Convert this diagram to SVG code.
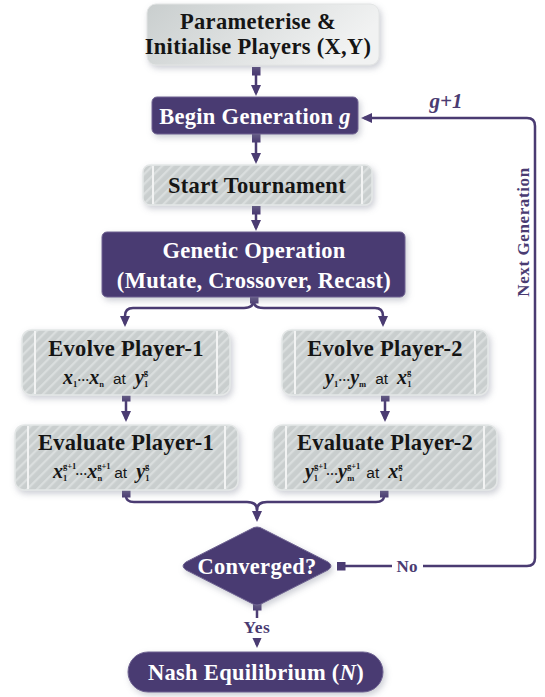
<svg xmlns="http://www.w3.org/2000/svg" width="545" height="697" viewBox="0 0 545 697">
<defs>
<style>
.t{font-family:"Liberation Serif",serif;font-weight:bold;font-size:22.5px;letter-spacing:0.3px;text-anchor:middle}
.k{fill:#151515}
.w{fill:#ffffff}
.gray{fill:url(#hatch);stroke:#e4e7e7;stroke-width:1.5}
.inset{stroke:#f2f3f3;stroke-width:2}
.purp{fill:#4a3b72;stroke:#6f6392;stroke-width:1}
.ln{font-family:"Liberation Serif",serif;fill:#151515}
.bi{font-weight:bold;font-style:italic;font-size:20px}
.sb{font-weight:bold;font-size:8.5px}
.dt{font-weight:bold;font-size:12px}
.at{font-family:"Liberation Sans",sans-serif;font-size:15.5px}
.c{fill:none;stroke:#4a3b72;stroke-width:2.5}
.lab{font-family:"Liberation Serif",serif;font-weight:bold;fill:#4a3b72;text-anchor:middle}
</style>
<pattern id="hatch" width="7" height="7" patternUnits="userSpaceOnUse" patternTransform="rotate(45)">
<rect width="7" height="7" fill="#c9cece"/>
<line x1="1" y1="0" x2="1" y2="7" stroke="#dadede" stroke-width="2.5"/>
</pattern>
<linearGradient id="topg" x1="0" y1="0" x2="1" y2="0.3">
<stop offset="0" stop-color="#c9cece"/>
<stop offset="1" stop-color="#f1f2f2"/>
</linearGradient>
<filter id="sh" x="-10%" y="-20%" width="125%" height="150%">
<feDropShadow dx="2" dy="3" stdDeviation="3" flood-color="#8d92a0" flood-opacity="0.45"/>
</filter>
<marker id="ah" markerWidth="12" markerHeight="10" refX="8" refY="5" orient="auto" markerUnits="userSpaceOnUse">
<path d="M0,0 L11,5 L0,10 Z" fill="#4a3b72"/>
</marker>
<marker id="sq" markerWidth="9" markerHeight="9" refX="4.5" refY="4.5" orient="0" markerUnits="userSpaceOnUse">
<rect width="9" height="9" fill="#4a3b72"/>
</marker>
</defs>
<rect width="545" height="697" fill="#ffffff"/>

<g id="connectors">
<path class="c" marker-start="url(#sq)" marker-end="url(#ah)" d="M256,71 V93"/>
<path class="c" marker-start="url(#sq)" marker-end="url(#ah)" d="M256,138 V161"/>
<path class="c" marker-start="url(#sq)" marker-end="url(#ah)" d="M256,210 V228"/>
<path class="c" marker-start="url(#sq)" marker-end="url(#ah)" d="M254,299 C254,306 250,308 244,308 H133 Q125,308 125,316 V324"/>
<path class="c" marker-end="url(#ah)" d="M254,302 C254,306 258,308 264,308 H375 Q383,308 383,316 V324"/>
<path class="c" marker-start="url(#sq)" marker-end="url(#ah)" d="M126,397 V419"/>
<path class="c" marker-start="url(#sq)" marker-end="url(#ah)" d="M385,397 V419"/>
<path class="c" marker-start="url(#sq)" marker-end="url(#ah)" d="M126,493 V496 Q126,502 134,502 H247 Q257,502 257,510 V519"/>
<path class="c" marker-start="url(#sq)" d="M384,493 V496 Q384,502 376,502 H267 Q257,502 257,510"/>
<path class="c" marker-start="url(#sq)" marker-end="url(#ah)" d="M341,566 H527 Q535,566 535,558 V126 Q535,118 527,118 H364"/>
<path class="c" marker-start="url(#sq)" marker-end="url(#ah)" d="M257,606 V645"/>
<rect x="392" y="556" width="31" height="19" fill="#ffffff"/>
<text class="lab" x="407" y="572" font-size="17">No</text>
<rect x="237" y="618" width="40" height="20" fill="#ffffff"/>
<text class="lab" x="257" y="633" font-size="17.5" letter-spacing="0.5">Yes</text>
<text class="lab" x="446" y="108" font-size="21" font-style="italic">g+1</text>
<text class="lab" x="0" y="0" font-size="17" letter-spacing="0.6" transform="translate(529,232) rotate(-90)">Next Generation</text>
</g>

<g id="init">
<rect x="147" y="4" width="232" height="61" rx="9" fill="url(#topg)" stroke="#e2e4e4" stroke-width="1" filter="url(#sh)"/>
<text class="t k" x="258" y="29" font-size="21.5">Parameterise &amp;</text>
<text class="t k" x="258" y="54" font-size="21.5">Initialise Players (X,Y)</text>
</g>

<g id="begin">
<rect class="purp" x="152" y="97" width="206" height="37" rx="5" filter="url(#sh)"/>
<text class="t w" x="255" y="124">Begin Generation <tspan font-style="italic">g</tspan></text>
</g>

<g id="tournament">
<rect class="gray" x="143" y="165" width="229" height="40" rx="7" filter="url(#sh)"/>
<line class="inset" x1="153" y1="166" x2="153" y2="204"/>
<line class="inset" x1="362" y1="166" x2="362" y2="204"/>
<text class="t k" x="257" y="193">Start Tournament</text>
</g>

<g id="genetic">
<rect class="purp" x="102" y="232" width="303" height="65" rx="5" filter="url(#sh)"/>
<text class="t w" x="254" y="258">Genetic Operation</text>
<text class="t w" x="254" y="288">(Mutate, Crossover, Recast)</text>
</g>

<g id="evolve1">
<rect class="gray" x="22" y="330" width="208" height="65" rx="9" filter="url(#sh)"/>
<line class="inset" x1="35" y1="331" x2="35" y2="394"/>
<line class="inset" x1="217" y1="331" x2="217" y2="394"/>
<text class="t k" x="126" y="356">Evolve Player-1</text>
<text class="ln" x="63" y="384"><tspan class="bi">x</tspan><tspan class="sb" dy="3">1</tspan><tspan class="dt" dy="-3">···</tspan><tspan class="bi">x</tspan><tspan class="sb" dy="3">n</tspan><tspan class="at" dx="9" dy="-3">at</tspan><tspan class="bi" dx="9">y</tspan><tspan class="sb" dy="-9">g</tspan><tspan class="sb" dx="-4" dy="12">1</tspan></text>
</g>

<g id="evaluate1">
<rect class="gray" x="15" y="425" width="223" height="65" rx="9" filter="url(#sh)"/>
<line class="inset" x1="28" y1="426" x2="28" y2="489"/>
<line class="inset" x1="225" y1="426" x2="225" y2="489"/>
<text class="t k" x="126" y="450">Evaluate Player-1</text>
<text class="ln" x="53" y="478"><tspan class="bi">x</tspan><tspan class="sb" dy="-9">g+1</tspan><tspan class="sb" dx="-13" dy="12">1</tspan><tspan class="dt" dx="8" dy="-3">···</tspan><tspan class="bi">x</tspan><tspan class="sb" dy="-9">g+1</tspan><tspan class="sb" dx="-13" dy="12">n</tspan><tspan class="at" dx="12" dy="-3">at</tspan><tspan class="bi" dx="9">y</tspan><tspan class="sb" dy="-9">g</tspan><tspan class="sb" dx="-4" dy="12">1</tspan></text>
</g>

<g id="evolve2">
<rect class="gray" x="282" y="330" width="206" height="65" rx="9" filter="url(#sh)"/>
<line class="inset" x1="295" y1="331" x2="295" y2="394"/>
<line class="inset" x1="475" y1="331" x2="475" y2="394"/>
<text class="t k" x="385" y="356">Evolve Player-2</text>
<text class="ln" x="325" y="384"><tspan class="bi">y</tspan><tspan class="sb" dy="3">1</tspan><tspan class="dt" dy="-3">···</tspan><tspan class="bi">y</tspan><tspan class="sb" dy="3">m</tspan><tspan class="at" dx="9" dy="-3">at</tspan><tspan class="bi" dx="9">x</tspan><tspan class="sb" dy="-9">g</tspan><tspan class="sb" dx="-4" dy="12">1</tspan></text>
</g>

<g id="evaluate2">
<rect class="gray" x="273" y="425" width="224" height="65" rx="9" filter="url(#sh)"/>
<line class="inset" x1="286" y1="426" x2="286" y2="489"/>
<line class="inset" x1="484" y1="426" x2="484" y2="489"/>
<text class="t k" x="385" y="450">Evaluate Player-2</text>
<text class="ln" x="305" y="478"><tspan class="bi">y</tspan><tspan class="sb" dy="-9">g+1</tspan><tspan class="sb" dx="-13" dy="12">1</tspan><tspan class="dt" dx="8" dy="-3">···</tspan><tspan class="bi">y</tspan><tspan class="sb" dy="-9">g+1</tspan><tspan class="sb" dx="-13" dy="12">m</tspan><tspan class="at" dx="12" dy="-3">at</tspan><tspan class="bi" dx="9">x</tspan><tspan class="sb" dy="-9">g</tspan><tspan class="sb" dx="-4" dy="12">1</tspan></text>
</g>

<g id="converged">
<path d="M251,529 Q257,525 263,529 L328,562 Q334,566 328,570 L263,603 Q257,607 251,603 L186,570 Q180,566 186,562 Z" fill="#4a3b72" stroke="#6f6392" stroke-width="1" filter="url(#sh)"/>
<text class="t w" x="257" y="574">Converged?</text>
</g>

<g id="nash">
<rect class="purp" x="128" y="652" width="255" height="40" rx="20" filter="url(#sh)"/>
<text class="t w" x="256" y="680">Nash Equilibrium (<tspan font-style="italic">N</tspan>)</text>
</g>
</svg>
